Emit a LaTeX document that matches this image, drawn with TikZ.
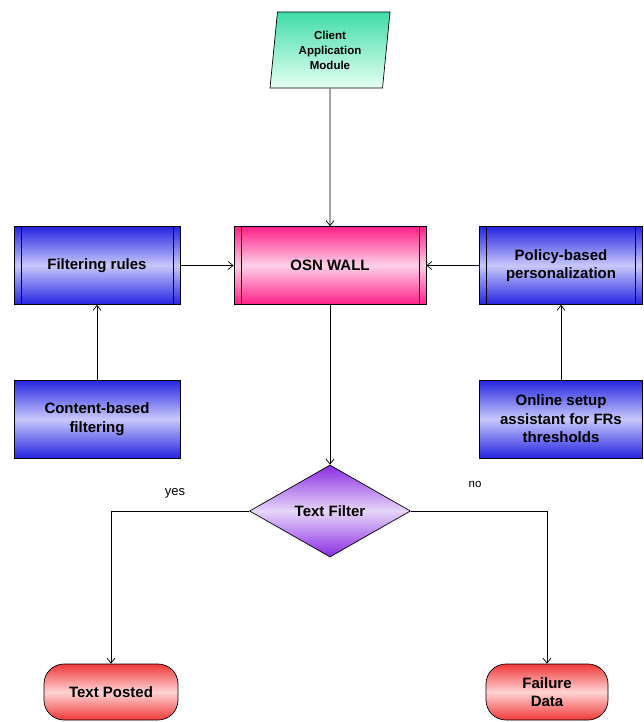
\documentclass[tikz,border=0pt]{standalone}
\usepackage{fontspec}
\setmainfont{Liberation Sans}
\usetikzlibrary{arrows.meta,shapes.geometric}
\definecolor{bluedark}{HTML}{2424E0}
\definecolor{bluelight}{HTML}{C8C8FC}
\definecolor{pinkdark}{HTML}{FF2088}
\definecolor{pinklight}{HTML}{FFD0E8}
\definecolor{purpdark}{HTML}{8A2BE2}
\definecolor{purplight}{HTML}{E6D6FA}
\definecolor{reddark}{HTML}{F03838}
\definecolor{redlight}{HTML}{FFD4D4}
\definecolor{aquadark}{HTML}{40DDA8}
\definecolor{aqualight}{HTML}{E6FFF4}
\tikzset{
  base/.style={draw=black, line width=0.7pt, align=center, inner sep=0pt,
    font=\fontsize{15}{18.5}\selectfont\bfseries},
  bluebox/.style={base, rectangle, minimum width=166pt, minimum height=78pt,
    top color=bluedark, bottom color=bluedark, middle color=bluelight},
  procbox/.style={path picture={
    \draw[line width=0.7pt] ([xshift=7pt]path picture bounding box.north west) -- ([xshift=7pt]path picture bounding box.south west)
      ([xshift=-7pt]path picture bounding box.north east) -- ([xshift=-7pt]path picture bounding box.south east);}},
  wallbox/.style={base, rectangle, minimum width=192pt, minimum height=78pt,
    top color=pinkdark, bottom color=pinkdark, middle color=pinklight, procbox},
  decision/.style={base, diamond, minimum width=161pt, minimum height=92pt,
    top color=purpdark, bottom color=purpdark, middle color=purplight},
  terminal/.style={base, rectangle, rounded corners=20pt, minimum height=56pt,
    top color=reddark, bottom color=reddark, middle color=redlight},
  inputbox/.style={base, trapezium, trapezium left angle=79, trapezium right angle=101,
    minimum width=120pt, minimum height=76pt, trapezium stretches body,
    top color=aquadark, bottom color=aqualight, font=\fontsize{11.5}{15}\selectfont\bfseries},
  arr/.style={line width=0.7pt, -{Straight Barb[length=5pt,width=8pt]}},
  lbl/.style={font=\fontsize{13}{15}\selectfont, inner sep=0pt}
}
\begin{document}
\begin{tikzpicture}[x=1pt,y=-1pt]
\useasboundingbox (0,0) rectangle (643,722);
\node[inputbox] (client) at (330,50) {Client\\Application\\Module};
\node[wallbox] (osn) at (330,265.5) {OSN WALL};
\node[bluebox, procbox] (filt) at (97,265.5) {Filtering rules};
\node[bluebox, procbox, minimum width=163pt] (pol) at (561,265.5) {Policy-based\\personalization};
\node[bluebox] (cont) at (97,419) {Content-based\\filtering};
\node[bluebox, minimum width=163pt] (onl) at (561,419) {Online setup\\assistant for FRs\\thresholds};
\node[decision] (dia) at (330,511) {Text Filter};
\node[terminal, minimum width=134pt] (tp) at (111,692) {Text Posted};
\node[terminal, minimum width=122pt] (fd) at (547,692) {Failure\\Data};
\node[lbl] (yes) at (175,493) {yes};
\node[lbl, font=\fontsize{11.5}{14}\selectfont] (no) at (475,484) {no};
\draw[arr] (client.south) -- (osn.north);
\draw[arr] (filt.east) -- (osn.west);
\draw[arr] (pol.west) -- (osn.east);
\draw[arr] (cont.north) -- (filt.south);
\draw[arr] (onl.north) -- (pol.south);
\draw[arr] (osn.south) -- (dia.north);
\draw[arr] (dia.west) -| (tp.north);
\draw[arr] (dia.east) -| (fd.north);
\end{tikzpicture}
\end{document}
